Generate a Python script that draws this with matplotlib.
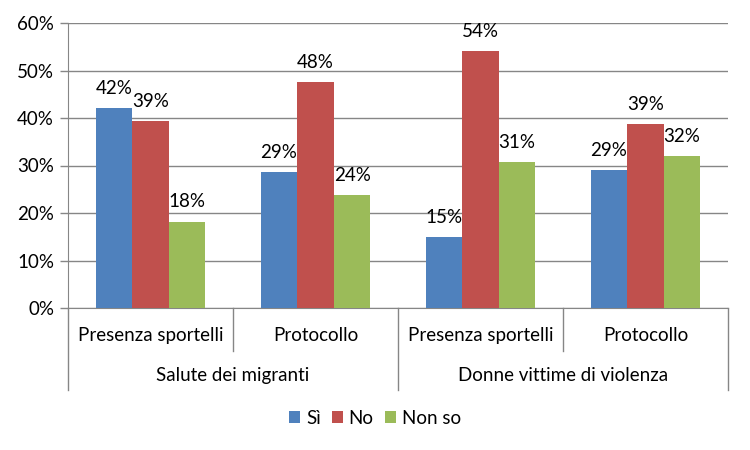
import matplotlib.pyplot as plt
import numpy as np

# data (percent)
groups = ['Salute dei migranti', 'Donne vittime di violenza']
subcats = ['Presenza sportelli', 'Protocollo', 'Presenza sportelli', 'Protocollo']
series = ['Sì', 'No', 'Non so']
si = [42.1, 28.6, 15.0, 29.1]
no = [39.4, 47.6, 54.1, 38.8]
non_so = [18.2, 23.7, 30.8, 31.9]

colors = ['#4F81BD', '#C0504D', '#9BBB59']
grid_c = '#868686'
fs = 13.5

plt.rcParams['font.family'] = ['Lato', 'DejaVu Sans']

fig = plt.figure(figsize=(7.5, 4.5), dpi=100)
ax = fig.add_axes([68 / 750, 1 - 308 / 450, 660 / 750, 285 / 450])

x = np.arange(len(subcats))
w = 0.222
for i, (vals, name) in enumerate(zip([si, no, non_so], series)):
    pos = x + (i - 1) * w
    ax.bar(pos, vals, width=w, color=colors[i], label=name, zorder=3)
    for px, v in zip(pos, vals):
        ax.annotate(f'{v:.0f}%', (px, v), xytext=(0, 8), textcoords='offset points',
                    ha='center', va='bottom', fontsize=fs, color='#000000', zorder=4)

ax.set_xlim(-0.5, len(subcats) - 0.5)
ax.set_ylim(0, 60)
ax.set_yticks(range(0, 61, 10))
ax.set_yticklabels([f'{t}%' for t in range(0, 61, 10)], fontsize=fs)
ax.yaxis.grid(True, color=grid_c, linewidth=1, zorder=0)
ax.tick_params(axis='y', length=6, color=grid_c, width=1, pad=4)
ax.set_xticks([])

for s in ['top', 'right']:
    ax.spines[s].set_visible(False)
ax.spines['left'].set_color(grid_c)
ax.spines['bottom'].set_color(grid_c)

# multi-level category axis
tr = ax.get_xaxis_transform()
for b in np.arange(-0.5, len(subcats), 1.0):
    outer = b in (-0.5, 1.5, 3.5)
    y_end = -0.288 if outer else -0.150
    ax.plot([b, b], [0, y_end], transform=tr, color=grid_c, linewidth=1,
            clip_on=False)
for xi, lab in zip(x, subcats):
    ax.text(xi, -0.098, lab, transform=tr, ha='center', va='center', fontsize=fs)
for gi, lab in enumerate(groups):
    ax.text(gi * 2 + 0.5, -0.238, lab, transform=tr, ha='center', va='center',
            fontsize=fs)

fig.legend(loc='center', bbox_to_anchor=(0.5, 1 - 418 / 450), ncol=3,
           frameon=False, fontsize=fs, handlelength=0.6, handleheight=0.6,
           handletextpad=0.3, columnspacing=0.6)

fig.savefig('out.png', dpi=100)
